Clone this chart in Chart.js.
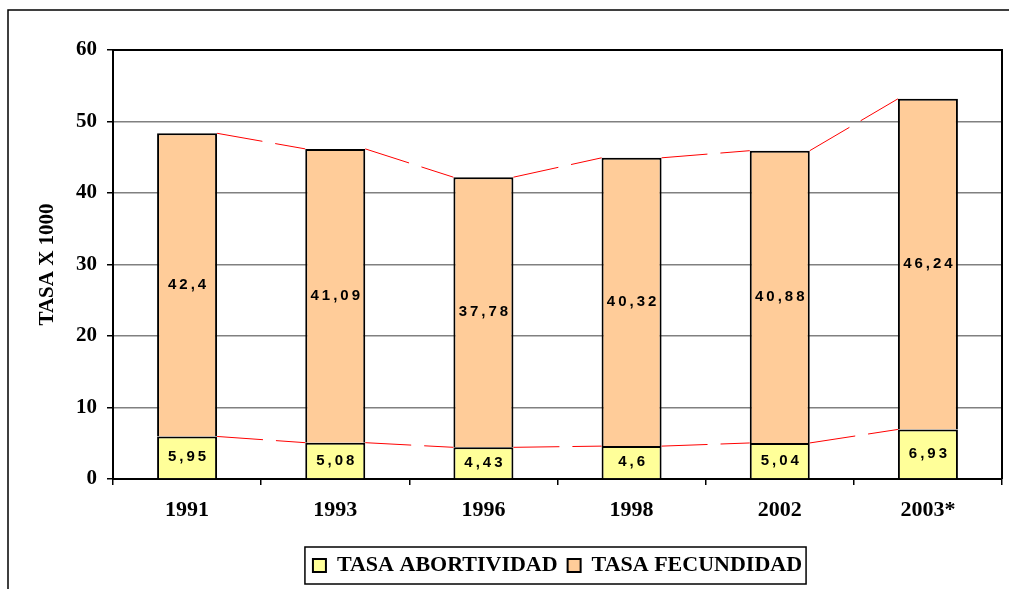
<!DOCTYPE html>
<html>
<head>
<meta charset="utf-8">
<script src="https://cdn.jsdelivr.net/npm/chart.js@4/dist/chart.umd.min.js"></script>
<style>
	body { margin: 0; background: #fff; }
	#wrap { position: relative; width: 1009px; height: 589px; }
</style>
</head>
<body>
<div id="wrap"><canvas id="tasas"></canvas></div>
<script>
var years = ["1991", "1993", "1996", "1998", "2002", "2003*"];
var abortividad = [5.95, 5.08, 4.43, 4.6, 5.04, 6.93];
var fecundidad = [42.4, 41.09, 37.78, 40.32, 40.88, 46.24];
var yTicks = [0, 10, 20, 30, 40, 50, 60];

var serif = "'Liberation Serif', 'Times New Roman', serif";

// marco exterior, borde del area y lineas de serie
var decor = {
	id : 'decor',
	beforeDraw : function(chart){
		var ctx = chart.ctx;
		ctx.save();
		ctx.strokeStyle = '#000';
		ctx.lineWidth = 1.5;
		ctx.beginPath();
		ctx.moveTo(8, chart.height);
		ctx.lineTo(8, 10);
		ctx.lineTo(chart.width, 10);
		ctx.stroke();
		ctx.restore();
	},
	afterDatasetsDraw : function(chart){
		var ctx = chart.ctx, a = chart.chartArea;
		ctx.save();
		// lineas de serie
		ctx.strokeStyle = '#FF0000';
		ctx.lineWidth = 1;
		ctx.setLineDash([46, 13]);
		chart.data.datasets.forEach(function(ds, i){
			var bars = chart.getDatasetMeta(i).data;
			for (var k = 0; k < bars.length - 1; k++) {
				var b0 = bars[k], b1 = bars[k + 1];
				ctx.beginPath();
				ctx.moveTo(b0.x + b0.width / 2, b0.y);
				ctx.lineTo(b1.x - b1.width / 2, b1.y);
				ctx.stroke();
			}
		});
		ctx.setLineDash([]);
		// etiquetas de valor
		ctx.fillStyle = '#000';
		ctx.font = "bold 15px 'Liberation Sans', Arial, sans-serif";
		ctx.letterSpacing = '3px';
		ctx.textAlign = 'center';
		ctx.textBaseline = 'middle';
		chart.data.datasets.forEach(function(ds, i){
			chart.getDatasetMeta(i).data.forEach(function(bar, k){
				var txt = String(ds.data[k]).replace('.', ',');
				ctx.fillText(txt, bar.x + 1.5, (bar.y + bar.base) / 2);
			});
		});
		ctx.letterSpacing = '0px';
		// borde superior y derecho
		ctx.strokeStyle = '#000';
		ctx.lineWidth = 2;
		ctx.beginPath();
		ctx.moveTo(a.left, a.top);
		ctx.lineTo(a.right, a.top);
		ctx.lineTo(a.right, a.bottom);
		ctx.stroke();
		ctx.restore();
	},
	afterDraw : function(chart){
		var boxes = chart.legend.legendHitBoxes;
		if (!boxes || !boxes.length) return;
		var first = boxes[0], last = boxes[boxes.length - 1];
		var ctx = chart.ctx;
		ctx.save();
		ctx.strokeStyle = '#000';
		ctx.lineWidth = 1.5;
		ctx.strokeRect(first.left - 8, first.top - 7.5, last.left + last.width - first.left + 12, first.height + 15);
		ctx.restore();
	}
};

new Chart("tasas", {
	type : 'bar',
	data : {
		labels : years,
		datasets : [{
			label : 'TASA ABORTIVIDAD',
			data : abortividad,
			backgroundColor : '#FFFF99',
			borderColor : '#000',
			borderWidth : 2,
			barPercentage : 0.81,
			categoryPercentage : 0.5
		}, {
			label : 'TASA FECUNDIDAD',
			data : fecundidad,
			backgroundColor : '#FFCC99',
			borderColor : '#000',
			borderWidth : 2,
			barPercentage : 0.81,
			categoryPercentage : 0.5
		}]
	},
	options : {
		responsive : true,
		maintainAspectRatio : false,
		animation : false,
		layout : { padding : { left : 30, right : 7, top : 50, bottom : 2.5 } },
		plugins : {
			tooltip : { enabled : false },
			legend : {
				position : 'bottom',
				fullSize : false,
				labels : {
					color : '#000',
					boxWidth : 13,
					boxHeight : 13,
					padding : 10,
					font : { family : serif, size : 22, weight : 'bold' }
				}
			}
		},
		scales : {
			x : {
				stacked : true,
				grid : { drawOnChartArea : false, drawTicks : true, tickLength : 6, tickColor : '#000', lineWidth : 1.5 },
				border : { color : '#000', width : 2 },
				ticks : { color : '#000', padding : 12, font : { family : serif, size : 22, weight : 'bold' } },
				afterFit : function(scale){ scale.height = 65.5; }
			},
			y : {
				stacked : true,
				min : 0,
				max : 60,
				afterBuildTicks : function(scale){ scale.ticks = yTicks.map(function(v){ return { value : v }; }); },
				grid : { color : '#808080', lineWidth : 1.5, tickLength : 6, tickColor : '#000' },
				border : { color : '#000', width : 2 },
				ticks : { color : '#000', padding : 10, font : { family : serif, size : 21, weight : 'bold' } },
				title : {
					display : true,
					text : 'TASA X 1000',
					color : '#000',
					padding : 5,
					font : { family : serif, size : 21, weight : 'bold' }
				},
				afterFit : function(scale){ scale.width = 83; }
			}
		}
	},
	plugins : [decor]
});
</script>
</body>
</html>
